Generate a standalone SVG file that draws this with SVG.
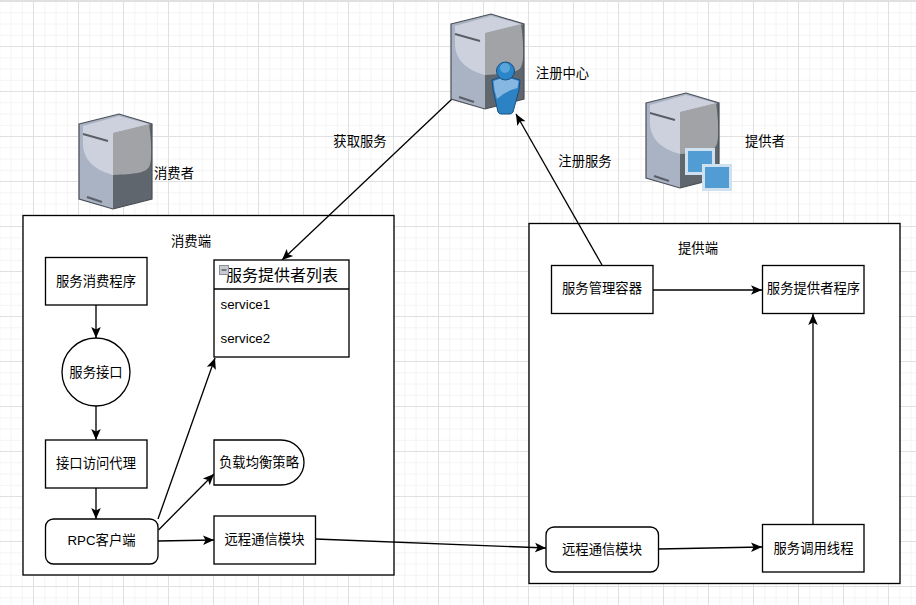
<svg xmlns="http://www.w3.org/2000/svg" width="916" height="605" viewBox="0 0 916 605">
<style>
text{font-family:"Liberation Sans","Noto Sans CJK SC",sans-serif;font-size:13.33px;fill:#000;text-anchor:middle;dominant-baseline:central}
.b{fill:#fff;stroke:#000;stroke-width:1.33}
.c{fill:none;stroke:#000;stroke-width:1.33;marker-end:url(#arrow)}
.l{text-anchor:start}
</style>
<defs>
<pattern id="grid" width="45" height="45" patternUnits="userSpaceOnUse" x="-12" y="1">
<path d="M11.75 0V45M23 0V45M34.25 0V45M0 11.75H45M0 23H45M0 34.25H45" fill="none" stroke="#f4f4f4" stroke-width="1"/>
<path d="M0.500 0V45M0 0.500H45" fill="none" stroke="#e0e0e0" stroke-width="1"/>
</pattern>
<marker id="arrow" markerUnits="userSpaceOnUse" markerWidth="12" markerHeight="12" refX="11" refY="6" orient="auto">
<path d="M0 1.2L11 6L0 10.8L2.6 6Z" fill="#000"/>
</marker>
<g id="server">
<path d="M0 10L40 0L73 10V85L34 95L0 85Z" fill="#a9b3c4"/>
<path d="M34 19L73 10V85L34 95Z" fill="#5f666e"/>
<path d="M34 19L70 10C72 25 74 45 70 53C66 59 56 60 34 61Z" fill="#a1a3a6"/>
<path d="M4 12L40 2L70 10L34 19V61C20 57 6 50 4 32Z" fill="#cdd1dd"/>
<path d="M0 10L40 0L73 10V85L34 95L0 85Z" fill="none" stroke="#4a4f57" stroke-width="1.2"/>
<path d="M4 20L29 27M8 83L23 88" stroke="#5a5f66" stroke-width="2" fill="none"/>
</g>
</defs>
<rect width="916" height="605" fill="#fff"/>
<rect width="916" height="605" fill="url(#grid)"/>
<rect x="0" y="0" width="916" height="2" fill="#e0e0e0"/>

<g id="consumer-container"><rect class="b" x="23" y="215.500" width="371" height="359.500"/><text x="191" y="241">消费端</text></g>
<g id="provider-container"><rect class="b" x="529" y="223.500" width="371" height="360"/><text x="698" y="248">提供端</text></g>

<g id="connectors">
<path class="c" d="M96 305V338"/>
<path class="c" d="M96 406V440"/>
<path class="c" d="M96 488V519"/>
<path class="c" d="M158 519L215 358"/>
<path class="c" d="M158.500 530L214 474"/>
<path class="c" d="M158 541L214 540"/>
<path class="c" d="M315.500 539L546 548"/>
<path class="c" d="M658 549L762 547"/>
<path class="c" d="M813 524V314"/>
<path class="c" d="M653 290H762"/>
<path class="c" d="M602 265L516 114"/>
<path class="c" d="M452 99L282 260"/>
</g>
<g id="label-get"><text x="360" y="141">获取服务</text></g>
<g id="label-register"><text x="585" y="161">注册服务</text></g>

<g id="consumer-server"><use href="#server" x="79" y="114"/><text x="174" y="173">消费者</text></g>
<g id="registry-server"><use href="#server" x="451" y="14"/>
<path d="M492 80Q505 74 520 80L519 90L513 112Q512 114 510 114H501Q499 114 498 112L493 90Z" fill="#2d82c4" stroke="#174f80" stroke-width="1"/>
<path d="M493.500 81Q505 75.500 518.500 81L517.500 88Q505 91 497 99L494.500 90Z" fill="#86b7e2"/>
<circle cx="505.500" cy="71" r="9" fill="#2a86c8" stroke="#174f80" stroke-width="1"/>
<circle cx="505" cy="68" r="5" fill="#5aa5db"/>
<text x="562.500" y="73">注册中心</text></g>
<g id="provider-server"><use href="#server" x="646" y="93"/>
<rect x="686.500" y="149.500" width="27" height="24" fill="#519dd3" stroke="#cfe0ef" stroke-width="3"/>
<rect x="703.500" y="165.500" width="27" height="24" fill="#519dd3" stroke="#cfe0ef" stroke-width="3"/>
<text x="765" y="141">提供者</text></g>

<g id="service-consumer"><rect class="b" x="45.500" y="257.500" width="101.500" height="47.500"/><text x="96" y="281">服务消费程序</text></g>
<g id="service-interface"><circle class="b" cx="96" cy="372" r="34"/><text x="96" y="372">服务接口</text></g>
<g id="proxy"><rect class="b" x="45.500" y="440" width="101.500" height="48"/><text x="96" y="463">接口访问代理</text></g>
<g id="rpc-client"><rect class="b" x="45.500" y="519" width="112.500" height="45" rx="8"/><text x="101.500" y="540">RPC客户端</text></g>
<g id="provider-list"><rect class="b" x="214" y="260" width="135" height="97"/><path d="M214 289H349" stroke="#000" stroke-width="1.33"/>
<text x="282" y="275" style="font-size:16px">服务提供者列表</text>
<rect x="219.500" y="265.500" width="9" height="9" fill="#c9cbd3" stroke="#8a8d96"/><path d="M221.500 270H226.500" stroke="#444" stroke-width="1.200"/>
<text class="l" x="220.500" y="304">service1</text><text class="l" x="220.500" y="338">service2</text></g>
<g id="load-balance"><path class="b" d="M214 440H281A23 22.500 0 0 1 281 485H214Z"/><text x="259" y="462">负载均衡策略</text></g>
<g id="remote-client"><rect class="b" x="214" y="516" width="101.500" height="48"/><text x="264.500" y="539">远程通信模块</text></g>
<g id="service-manager"><rect class="b" x="551.500" y="265.500" width="101.500" height="48"/><text x="602" y="288">服务管理容器</text></g>
<g id="service-provider"><rect class="b" x="762.500" y="265.500" width="101.500" height="48"/><text x="813.500" y="288">服务提供者程序</text></g>
<g id="remote-server"><rect class="b" x="546" y="527" width="112.500" height="45" rx="8"/><text x="602" y="549">远程通信模块</text></g>
<g id="invoke-thread"><rect class="b" x="762.500" y="524.500" width="101.500" height="47.500"/><text x="813.500" y="548">服务调用线程</text></g>
</svg>
